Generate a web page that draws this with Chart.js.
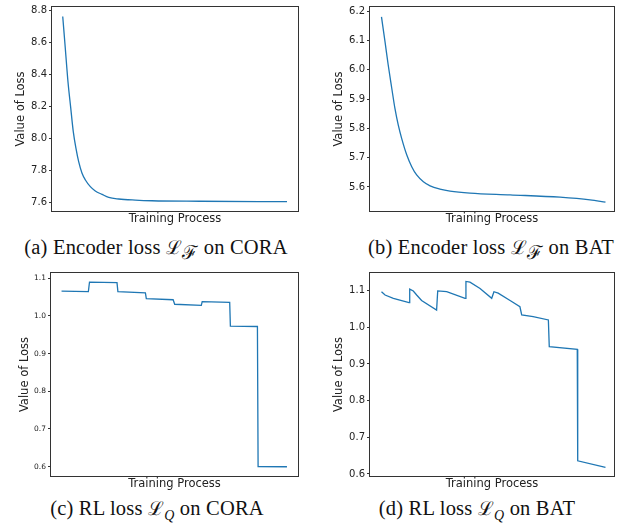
<!DOCTYPE html>
<html>
<head>
<meta charset="utf-8">
<script src="https://cdn.jsdelivr.net/npm/chart.js@4.4.0/dist/chart.umd.min.js"></script>
<style>
  body { margin: 0; background: #fff; }
  #page { position: relative; width: 618px; height: 529px; overflow: hidden; background: #fff; }
  .panel { position: absolute; }
  .caption { position: absolute; width: 300px; text-align: center; font-family: "Liberation Serif", serif; font-size: 20.5px; color: #111; white-space: nowrap; line-height: 24px; letter-spacing: 0.2px; }
  .caption .m { font-family: "DejaVu Serif", serif; font-size: 19px; }
  .caption sub { font-size: 12px; line-height: 0; }
  .caption sub.q { font-family: "Liberation Serif", serif; font-style: italic; font-size: 14px; }
</style>
</head>
<body>
<div id="page">
  <div class="panel" style="left:0;top:0"><canvas id="chartA" width="309" height="230"></canvas></div>
  <div class="panel" style="left:309px;top:0"><canvas id="chartB" width="309" height="230"></canvas></div>
  <div class="panel" style="left:0;top:265px"><canvas id="chartC" width="309" height="230"></canvas></div>
  <div class="panel" style="left:309px;top:265px"><canvas id="chartD" width="309" height="230"></canvas></div>

  <div class="caption" style="left:6px;top:235px">(a) Encoder loss <span class="m">ℒ</span><sub class="m">ℱ</sub> on CORA</div>
  <div class="caption" style="left:341px;top:235px">(b) Encoder loss <span class="m">ℒ</span><sub class="m">ℱ</sub> on BAT</div>
  <div class="caption" style="left:7px;top:496px">(c) RL loss <span class="m">ℒ</span><sub class="q">Q</sub> on CORA</div>
  <div class="caption" style="left:327px;top:496px">(d) RL loss <span class="m">ℒ</span><sub class="q">Q</sub> on BAT</div>
</div>
<script>
// training progress (0..100) and loss
const progressA = [0.1, 1.25, 2.45, 3.65, 4.8, 6.0, 7.2, 8.7, 10.2, 12.4, 14.6, 17.6, 20.6, 25, 32.4, 39.8, 61.2, 100];
const lossA = [8.76, 8.56, 8.35, 8.19, 8.04, 7.935, 7.852, 7.78, 7.738, 7.696, 7.669, 7.648, 7.629, 7.619, 7.612, 7.608, 7.605, 7.602];

const progressB = [0, 1.6, 3.0, 4.6, 6.0, 7.5, 9.0, 11.3, 13.5, 15.7, 18.7, 21.7, 26.1, 30.6, 39.5, 57.4, 79.7, 93.1, 100];
const lossB = [6.18, 6.094, 6.016, 5.936, 5.868, 5.811, 5.766, 5.709, 5.669, 5.641, 5.618, 5.604, 5.593, 5.586, 5.579, 5.573, 5.565, 5.556, 5.548];

const progressC = [0, 11.9, 12.4, 24.6, 25.0, 37.2, 37.6, 49.5, 50.2, 62.0, 62.4, 74.6, 74.9, 86.9, 87.2, 100];
const lossC = [1.066, 1.0645, 1.090, 1.0885, 1.0645, 1.061, 1.046, 1.043, 1.031, 1.028, 1.038, 1.036, 0.973, 0.972, 0.600, 0.5995];

const progressD = [0, 1.6, 5.3, 12.3, 12.6, 14.2, 15.7, 17.9, 24.6, 25.1, 29.1, 37.3, 37.7, 39.5, 44, 49.2, 50.2, 52.1, 57.4, 61.8, 62.6, 67.7, 74.5, 74.9, 87.4, 87.6, 100];
const lossD = [1.097, 1.088, 1.079, 1.067, 1.104, 1.099, 1.088, 1.073, 1.047, 1.099, 1.097, 1.079, 1.125, 1.123, 1.106, 1.079, 1.097, 1.093, 1.073, 1.056, 1.034, 1.029, 1.020, 0.947, 0.940, 0.636, 0.618];

const ticksA = [7.6, 7.8, 8.0, 8.2, 8.4, 8.6, 8.8];
const ticksB = [5.6, 5.7, 5.8, 5.9, 6.0, 6.1, 6.2];
const ticksQ = [0.6, 0.7, 0.8, 0.9, 1.0, 1.1];

const framePlugin = {
  id: 'frame',
  afterDatasetsDraw(chart) {
    const { ctx, chartArea: a } = chart;
    ctx.save();
    ctx.strokeStyle = '#333';
    ctx.lineWidth = 1;
    ctx.strokeRect(a.left - 0.5, a.top - 0.5, a.right - a.left + 1, a.bottom - a.top + 1);
    ctx.restore();
  }
};

function makeChart(id, xs, ys, yTicks, o) {
  const pts = xs.map((x, i) => ({ x, y: ys[i] }));
  return new Chart(document.getElementById(id), {
    type: 'line',
    data: {
      datasets: [{
        data: pts,
        borderColor: '#1f77b4',
        borderWidth: 1.3,
        pointRadius: 0,
        fill: false,
        tension: o.smooth ? 0.4 : 0,
        cubicInterpolationMode: o.smooth ? 'monotone' : 'default'
      }]
    },
    options: {
      responsive: false,
      animation: false,
      layout: { padding: { top: o.padTop, right: o.padRight, left: 0, bottom: 0 } },
      plugins: { legend: { display: false }, tooltip: { enabled: false } },
      scales: {
        x: {
          type: 'linear',
          min: o.xMin, max: o.xMax,
          grid: { display: false },
          border: { display: false },
          ticks: { display: false },
          title: {
            display: true, text: 'Training Process', color: '#222',
            font: { family: 'DejaVu Sans', size: 11.5 },
            padding: { top: 0, bottom: 4 }
          },
          afterFit: s => { s.height = 19; }
        },
        y: {
          min: o.yMin, max: o.yMax,
          grid: { drawOnChartArea: false, drawTicks: true, tickLength: 3, color: '#333' },
          border: { display: false },
          ticks: {
            color: '#222', padding: 2,
            font: { family: 'DejaVu Sans', size: o.tickSize, lineHeight: 1 },
            callback: v => v.toFixed(1)
          },
          afterBuildTicks: s => { s.ticks = yTicks.map(v => ({ value: v })); },
          title: {
            display: true, text: 'Value of Loss', color: '#222',
            font: { family: 'DejaVu Sans', size: 11.5 },
            padding: { top: o.titlePad, bottom: 0 }
          },
          afterFit: s => { s.width = o.axisW; }
        }
      }
    },
    plugins: [framePlugin]
  });
}

makeChart('chartA', progressA, lossA, ticksA, {
  yMin: 7.544, yMax: 8.819, xMin: -4.68, xMax: 104.9,
  axisW: 52, padTop: 7, padRight: 11, tickSize: 10, titlePad: 14, smooth: true
});
makeChart('chartB', progressB, lossB, ticksB, {
  yMin: 5.518, yMax: 6.214, xMin: -5.13, xMax: 103.8,
  axisW: 61, padTop: 7, padRight: 4, tickSize: 10, titlePad: 23, smooth: true
});
makeChart('chartC', progressC, lossC, ticksQ, {
  yMin: 0.575, yMax: 1.114, xMin: -4.68, xMax: 104.9,
  axisW: 51, padTop: 8, padRight: 11, tickSize: 7.5, titlePad: 18, smooth: false
});
makeChart('chartD', progressD, lossD, ticksQ, {
  yMin: 0.5945, yMax: 1.148, xMin: -5.13, xMax: 103.8,
  axisW: 61, padTop: 8, padRight: 4, tickSize: 10, titlePad: 23, smooth: false
});
</script>
</body>
</html>
